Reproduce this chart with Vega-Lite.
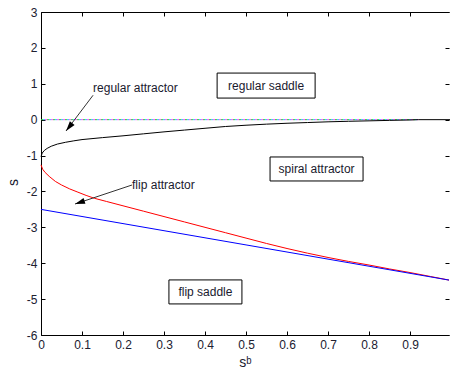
{
  "$schema": "https://vega.github.io/schema/vega-lite/v6.json",
  "width": 408,
  "height": 323,
  "autosize": {"type": "none"},
  "padding": {"left": 41, "top": 12, "right": 1, "bottom": 41},
  "background": "white",
  "config": {
    "view": {"stroke": null},
    "font": "Liberation Sans",
    "axis": {
      "grid": false,
      "domainColor": "#000000",
      "tickColor": "#000000",
      "tickSize": -4,
      "labelPadding": 8,
      "labelFont": "Liberation Sans",
      "labelFontSize": 12,
      "labelColor": "#202030",
      "labelFlush": false,
      "labelOverlap": false,
      "titleFont": "Liberation Sans",
      "titleFontSize": 14,
      "titleFontWeight": "normal",
      "titleColor": "#202030"
    }
  },
  "datasets": {
    "curves": [
      {"sb": 0, "s": -1.03, "curve": "black"},
      {"sb": 0.003, "s": -0.93, "curve": "black"},
      {"sb": 0.008, "s": -0.86, "curve": "black"},
      {"sb": 0.015, "s": -0.8, "curve": "black"},
      {"sb": 0.025, "s": -0.74, "curve": "black"},
      {"sb": 0.04, "s": -0.68, "curve": "black"},
      {"sb": 0.06, "s": -0.63, "curve": "black"},
      {"sb": 0.08, "s": -0.59, "curve": "black"},
      {"sb": 0.1, "s": -0.555, "curve": "black"},
      {"sb": 0.15, "s": -0.5, "curve": "black"},
      {"sb": 0.2, "s": -0.45, "curve": "black"},
      {"sb": 0.25, "s": -0.395, "curve": "black"},
      {"sb": 0.3, "s": -0.34, "curve": "black"},
      {"sb": 0.35, "s": -0.29, "curve": "black"},
      {"sb": 0.4, "s": -0.24, "curve": "black"},
      {"sb": 0.45, "s": -0.19, "curve": "black"},
      {"sb": 0.5, "s": -0.155, "curve": "black"},
      {"sb": 0.55, "s": -0.125, "curve": "black"},
      {"sb": 0.6, "s": -0.1, "curve": "black"},
      {"sb": 0.65, "s": -0.08, "curve": "black"},
      {"sb": 0.7, "s": -0.06, "curve": "black"},
      {"sb": 0.75, "s": -0.045, "curve": "black"},
      {"sb": 0.8, "s": -0.033, "curve": "black"},
      {"sb": 0.85, "s": -0.02, "curve": "black"},
      {"sb": 0.9, "s": -0.008, "curve": "black"},
      {"sb": 0.92, "s": 0, "curve": "black"},
      {"sb": 1, "s": 0, "curve": "black"},
      {"sb": 0, "s": -1.26, "curve": "red"},
      {"sb": 0.004, "s": -1.38, "curve": "red"},
      {"sb": 0.01, "s": -1.47, "curve": "red"},
      {"sb": 0.02, "s": -1.58, "curve": "red"},
      {"sb": 0.035, "s": -1.72, "curve": "red"},
      {"sb": 0.05, "s": -1.82, "curve": "red"},
      {"sb": 0.07, "s": -1.93, "curve": "red"},
      {"sb": 0.09, "s": -2.02, "curve": "red"},
      {"sb": 0.11, "s": -2.11, "curve": "red"},
      {"sb": 0.13, "s": -2.19, "curve": "red"},
      {"sb": 0.16, "s": -2.28, "curve": "red"},
      {"sb": 0.2, "s": -2.4, "curve": "red"},
      {"sb": 0.25, "s": -2.55, "curve": "red"},
      {"sb": 0.3, "s": -2.7, "curve": "red"},
      {"sb": 0.35, "s": -2.85, "curve": "red"},
      {"sb": 0.4, "s": -3.0, "curve": "red"},
      {"sb": 0.45, "s": -3.15, "curve": "red"},
      {"sb": 0.5, "s": -3.3, "curve": "red"},
      {"sb": 0.55, "s": -3.45, "curve": "red"},
      {"sb": 0.6, "s": -3.59, "curve": "red"},
      {"sb": 0.65, "s": -3.72, "curve": "red"},
      {"sb": 0.7, "s": -3.84, "curve": "red"},
      {"sb": 0.75, "s": -3.95, "curve": "red"},
      {"sb": 0.8, "s": -4.05, "curve": "red"},
      {"sb": 0.85, "s": -4.16, "curve": "red"},
      {"sb": 0.9, "s": -4.26, "curve": "red"},
      {"sb": 0.95, "s": -4.37, "curve": "red"},
      {"sb": 0.995, "s": -4.47, "curve": "red"},
      {"sb": 0, "s": -2.5, "curve": "blue"},
      {"sb": 0.5, "s": -3.49, "curve": "blue"},
      {"sb": 0.995, "s": -4.47, "curve": "blue"}
    ],
    "zero": [
      {"sb": 0, "s": 0},
      {"sb": 0.92, "s": 0}
    ],
    "arrows": [
      {"label": "regular attractor", "sb": 0.127, "s": 0.68, "sb_tip": 0.061, "s_tip": -0.316},
      {"label": "flip attractor", "sb": 0.222, "s": -1.82, "sb_tip": 0.083, "s_tip": -2.35}
    ],
    "notes": [
      {"label": "regular attractor", "sb": 0.127, "s": 0.874},
      {"label": "flip attractor", "sb": 0.222, "s": -1.82}
    ],
    "regions": [
      {"label": "regular saddle", "sb": 0.549, "s": 0.95},
      {"label": "spiral attractor", "sb": 0.672, "s": -1.374},
      {"label": "flip saddle", "sb": 0.401, "s": -4.8}
    ]
  },
  "resolve": {"axis": {"x": "independent", "y": "independent"}},
  "layer": [
    {
      "data": {"name": "zero"},
      "mark": {"type": "line", "color": "#33cc33", "strokeWidth": 1, "strokeDash": [2, 4]},
      "encoding": {
        "x": {
          "field": "sb", "type": "quantitative",
          "scale": {"domain": [0, 0.995], "nice": false, "zero": false},
          "axis": {"orient": "top", "labels": false, "title": null, "values": [0, 0.1, 0.2, 0.3, 0.4, 0.5, 0.6, 0.7, 0.8, 0.9]}
        },
        "y": {
          "field": "s", "type": "quantitative",
          "scale": {"domain": [-6, 3], "nice": false, "zero": false},
          "axis": {"orient": "right", "labels": false, "domain": false, "title": null, "values": [-6, -5, -4, -3, -2, -1, 0, 1, 2, 3]}
        }
      }
    },
    {
      "data": {"name": "zero"},
      "mark": {"type": "line", "color": "#ff44ff", "strokeWidth": 1, "strokeDash": [2, 4], "strokeDashOffset": 2},
      "encoding": {
        "x": {"field": "sb", "type": "quantitative", "axis": null},
        "y": {"field": "s", "type": "quantitative", "axis": null}
      }
    },
    {
      "data": {"name": "zero"},
      "mark": {"type": "line", "color": "#33bbff", "strokeWidth": 1, "strokeDash": [2, 4], "strokeDashOffset": 4},
      "encoding": {
        "x": {"field": "sb", "type": "quantitative", "axis": null},
        "y": {"field": "s", "type": "quantitative", "axis": null}
      }
    },
    {
      "data": {"name": "curves"},
      "mark": {"type": "line", "strokeWidth": 1},
      "encoding": {
        "x": {
          "field": "sb", "type": "quantitative",
          "axis": {"orient": "bottom", "title": "sᵇ", "titlePadding": 5, "values": [0, 0.1, 0.2, 0.3, 0.4, 0.5, 0.6, 0.7, 0.8, 0.9], "labelExpr": "'' + datum.value"}
        },
        "y": {
          "field": "s", "type": "quantitative",
          "axis": {"orient": "left", "title": "s", "titlePadding": 6, "titleY": 170, "values": [-6, -5, -4, -3, -2, -1, 0, 1, 2, 3], "labelExpr": "'' + datum.value"}
        },
        "color": {
          "field": "curve", "type": "nominal",
          "scale": {"domain": ["black", "red", "blue"], "range": ["#000000", "#ff0000", "#0000ff"]},
          "legend": null
        },
        "order": {"field": "sb", "type": "quantitative"}
      }
    },
    {
      "data": {"name": "arrows"},
      "mark": {"type": "rule", "color": "#333333", "strokeWidth": 1},
      "encoding": {
        "x": {"field": "sb", "type": "quantitative", "axis": null},
        "y": {"field": "s", "type": "quantitative", "axis": null},
        "x2": {"field": "sb_tip"},
        "y2": {"field": "s_tip"}
      }
    },
    {
      "data": {"name": "arrows"},
      "transform": [{"filter": "datum.label === 'regular attractor'"}],
      "mark": {"type": "point", "shape": "M0,0L0.6,2L-0.6,2Z", "size": 100, "angle": 218.5, "filled": true, "color": "#000000", "opacity": 1},
      "encoding": {
        "x": {"field": "sb_tip", "type": "quantitative", "axis": null},
        "y": {"field": "s_tip", "type": "quantitative", "axis": null}
      }
    },
    {
      "data": {"name": "arrows"},
      "transform": [{"filter": "datum.label === 'flip attractor'"}],
      "mark": {"type": "point", "shape": "M0,0L0.6,2L-0.6,2Z", "size": 100, "angle": 251.6, "filled": true, "color": "#000000", "opacity": 1},
      "encoding": {
        "x": {"field": "sb_tip", "type": "quantitative", "axis": null},
        "y": {"field": "s_tip", "type": "quantitative", "axis": null}
      }
    },
    {
      "data": {"name": "notes"},
      "mark": {"type": "text", "align": "left", "baseline": "middle", "fontSize": 12, "font": "Liberation Sans", "color": "#1a1a2e"},
      "encoding": {
        "x": {"field": "sb", "type": "quantitative", "axis": null},
        "y": {"field": "s", "type": "quantitative", "axis": null},
        "text": {"field": "label"}
      }
    },
    {
      "data": {"name": "regions"},
      "transform": [{"filter": "datum.label === 'regular saddle'"}],
      "mark": {"type": "point", "shape": "M-0.98,-0.25L0.98,-0.25L0.98,0.25L-0.98,0.25Z", "size": 10000, "filled": true, "fill": "#ffffff", "stroke": "#000000", "strokeWidth": 1, "opacity": 1},
      "encoding": {
        "x": {"field": "sb", "type": "quantitative", "axis": null},
        "y": {"field": "s", "type": "quantitative", "axis": null}
      }
    },
    {
      "data": {"name": "regions"},
      "transform": [{"filter": "datum.label === 'spiral attractor'"}],
      "mark": {"type": "point", "shape": "M-0.93,-0.24L0.93,-0.24L0.93,0.24L-0.93,0.24Z", "size": 10000, "filled": true, "fill": "#ffffff", "stroke": "#000000", "strokeWidth": 1, "opacity": 1},
      "encoding": {
        "x": {"field": "sb", "type": "quantitative", "axis": null},
        "y": {"field": "s", "type": "quantitative", "axis": null}
      }
    },
    {
      "data": {"name": "regions"},
      "transform": [{"filter": "datum.label === 'flip saddle'"}],
      "mark": {"type": "point", "shape": "M-0.73,-0.24L0.73,-0.24L0.73,0.24L-0.73,0.24Z", "size": 10000, "filled": true, "fill": "#ffffff", "stroke": "#000000", "strokeWidth": 1, "opacity": 1},
      "encoding": {
        "x": {"field": "sb", "type": "quantitative", "axis": null},
        "y": {"field": "s", "type": "quantitative", "axis": null}
      }
    },
    {
      "data": {"name": "regions"},
      "mark": {"type": "text", "align": "center", "baseline": "middle", "fontSize": 12, "font": "Liberation Sans", "color": "#1a1a2e"},
      "encoding": {
        "x": {"field": "sb", "type": "quantitative", "axis": null},
        "y": {"field": "s", "type": "quantitative", "axis": null},
        "text": {"field": "label"}
      }
    }
  ]
}
